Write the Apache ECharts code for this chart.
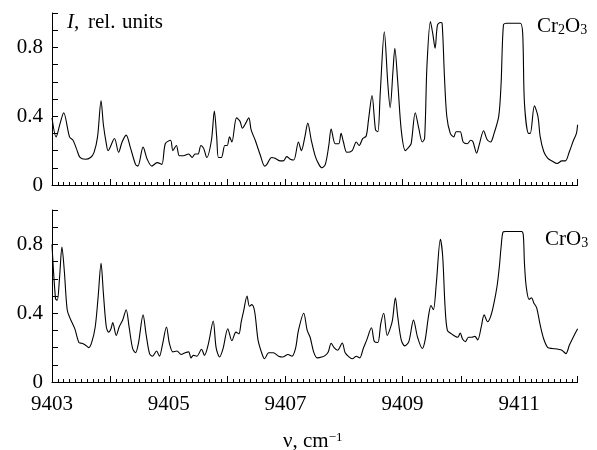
<!DOCTYPE html>
<html>
<head>
<meta charset="utf-8">
<script src="https://cdn.jsdelivr.net/npm/echarts@6/dist/echarts.min.js"></script>
<style>html,body{margin:0;padding:0;background:#fff}#c{width:597px;height:450px}</style>
</head>
<body>
<div id="c"></div>
<script>
// Wavenumber (cm^-1) and relative intensity, Cr2O3 panel
const nuTop = [9403.00,9403.07,9403.14,9403.20,9403.30,9403.36,9403.42,9403.48,9403.57,9403.66,9403.72,9403.78,9403.84,9403.88,9403.93,9403.96,9404.07,9404.14,9404.20,9404.27,9404.34,9404.43,9404.47,9404.56,9404.63,9404.71,9404.80,9404.88,9404.94,9405.03,9405.07,9405.13,9405.18,9405.25,9405.34,9405.40,9405.45,9405.50,9405.55,9405.60,9405.65,9405.73,9405.78,9405.82,9405.85,9405.90,9405.96,9406.00,9406.04,9406.08,9406.16,9406.22,9406.26,9406.31,9406.37,9406.41,9406.48,9406.57,9406.64,9406.68,9406.76,9406.82,9406.91,9406.96,9407.02,9407.08,9407.14,9407.22,9407.27,9407.33,9407.38,9407.44,9407.51,9407.57,9407.62,9407.68,9407.74,9407.78,9407.85,9407.91,9407.95,9407.99,9408.05,9408.14,9408.21,9408.26,9408.32,9408.38,9408.42,9408.48,9408.54,9408.58,9408.62,9408.69,9408.75,9408.79,9408.84,9408.87,9408.92,9408.98,9409.05,9409.11,9409.15,9409.22,9409.28,9409.34,9409.38,9409.42,9409.48,9409.52,9409.56,9409.60,9409.65,9409.68,9409.72,9409.76,9409.82,9409.88,9409.92,9409.99,9410.04,9410.11,9410.17,9410.21,9410.27,9410.32,9410.39,9410.45,9410.51,9410.57,9410.65,9410.69,9410.73,9410.78,9410.90,9411.02,9411.06,9411.09,9411.16,9411.19,9411.26,9411.32,9411.36,9411.42,9411.49,9411.56,9411.65,9411.73,9411.79,9411.86,9411.93,9411.98,9412.00];
const iTop = [0.39,0.28,0.36,0.42,0.28,0.26,0.21,0.16,0.15,0.16,0.19,0.28,0.49,0.35,0.24,0.20,0.27,0.19,0.25,0.29,0.22,0.12,0.11,0.22,0.15,0.11,0.13,0.12,0.24,0.26,0.20,0.23,0.17,0.17,0.18,0.16,0.18,0.18,0.23,0.21,0.16,0.26,0.43,0.28,0.16,0.16,0.23,0.23,0.28,0.25,0.39,0.37,0.33,0.355,0.39,0.32,0.26,0.17,0.11,0.12,0.16,0.155,0.14,0.14,0.165,0.15,0.145,0.25,0.20,0.28,0.36,0.26,0.165,0.12,0.10,0.12,0.23,0.325,0.24,0.24,0.30,0.25,0.19,0.20,0.25,0.23,0.27,0.285,0.38,0.52,0.32,0.31,0.53,0.89,0.59,0.45,0.67,0.795,0.60,0.32,0.20,0.22,0.24,0.42,0.33,0.25,0.27,0.69,0.95,0.88,0.795,0.93,0.945,0.94,0.63,0.40,0.30,0.28,0.31,0.31,0.25,0.24,0.26,0.25,0.185,0.24,0.315,0.265,0.25,0.30,0.40,0.59,0.93,0.94,0.94,0.94,0.88,0.475,0.30,0.30,0.46,0.40,0.28,0.195,0.155,0.14,0.125,0.14,0.14,0.195,0.26,0.30,0.35];
// CrO3 panel
const nuBot = [9403.00,9403.06,9403.09,9403.13,9403.17,9403.21,9403.26,9403.31,9403.39,9403.46,9403.51,9403.57,9403.63,9403.68,9403.74,9403.79,9403.84,9403.88,9403.93,9403.97,9404.01,9404.04,9404.10,9404.15,9404.21,9404.27,9404.32,9404.38,9404.43,9404.48,9404.56,9404.61,9404.67,9404.72,9404.79,9404.84,9404.89,9404.96,9405.01,9405.07,9405.14,9405.21,9405.28,9405.34,9405.38,9405.42,9405.48,9405.56,9405.61,9405.68,9405.76,9405.81,9405.87,9405.93,9406.01,9406.08,9406.15,9406.20,9406.24,9406.28,9406.34,9406.38,9406.42,9406.47,9406.53,9406.60,9406.64,9406.71,9406.79,9406.88,9406.95,9407.04,9407.11,9407.17,9407.22,9407.31,9407.37,9407.42,9407.48,9407.54,9407.62,9407.68,9407.73,9407.78,9407.83,9407.89,9407.97,9408.02,9408.09,9408.15,9408.21,9408.27,9408.33,9408.39,9408.47,9408.52,9408.58,9408.63,9408.68,9408.74,9408.79,9408.83,9408.88,9408.92,9408.98,9409.04,9409.11,9409.19,9409.26,9409.34,9409.39,9409.45,9409.49,9409.53,9409.58,9409.65,9409.69,9409.73,9409.77,9409.84,9409.91,9409.95,9409.99,9410.03,9410.08,9410.13,9410.19,9410.24,9410.29,9410.35,9410.40,9410.46,9410.51,9410.56,9410.62,9410.66,9410.69,9410.72,9410.76,9410.90,9411.04,9411.07,9411.09,9411.12,9411.17,9411.21,9411.25,9411.30,9411.36,9411.42,9411.49,9411.57,9411.67,9411.73,9411.80,9411.86,9411.91,9411.97,9412.00];
const iBot = [0.80,0.485,0.475,0.61,0.785,0.65,0.42,0.37,0.31,0.23,0.225,0.215,0.20,0.23,0.32,0.495,0.69,0.515,0.32,0.29,0.31,0.345,0.27,0.32,0.36,0.42,0.32,0.195,0.17,0.225,0.39,0.28,0.165,0.15,0.18,0.15,0.215,0.32,0.225,0.175,0.18,0.16,0.17,0.175,0.14,0.155,0.15,0.19,0.155,0.225,0.355,0.20,0.145,0.195,0.31,0.24,0.29,0.28,0.35,0.41,0.50,0.44,0.45,0.41,0.24,0.16,0.135,0.17,0.17,0.15,0.145,0.16,0.15,0.195,0.30,0.40,0.30,0.26,0.175,0.14,0.145,0.155,0.175,0.225,0.20,0.185,0.227,0.17,0.145,0.135,0.15,0.14,0.195,0.245,0.315,0.235,0.23,0.34,0.40,0.27,0.31,0.36,0.49,0.38,0.245,0.21,0.235,0.36,0.26,0.195,0.245,0.39,0.445,0.42,0.57,0.83,0.73,0.44,0.30,0.28,0.265,0.26,0.285,0.25,0.235,0.26,0.26,0.265,0.245,0.32,0.39,0.35,0.38,0.445,0.555,0.67,0.785,0.87,0.875,0.875,0.875,0.855,0.69,0.555,0.48,0.49,0.46,0.43,0.33,0.25,0.20,0.195,0.19,0.185,0.165,0.215,0.25,0.29,0.31];
const xTickLabels = [9403, 9405, 9407, 9409, 9411];
const yTickLabels = [0, 0.4, 0.8];

const FONT = '"Liberation Serif", "Times New Roman", serif';
const zip = (a, b) => a.map((v, i) => [v, b[i]]);

function xAxis(gi, showLabels) {
  return {
    type: 'value', gridIndex: gi, min: 9403, max: 9412, interval: 1,
    axisLine: { show: true, onZero: false, lineStyle: { color: '#000', width: 1 } },
    axisTick: { show: true, inside: true, length: 6, lineStyle: { color: '#000', width: 1 } },
    minorTick: { show: true, splitNumber: 10, length: 3, lineStyle: { color: '#000', width: 1 } },
    splitLine: { show: false },
    axisLabel: {
      show: showLabels, margin: 12, color: '#000', fontFamily: FONT, fontSize: 21,
      formatter: v => xTickLabels.includes(Math.round(v)) ? String(Math.round(v)) : ''
    }
  };
}
function yAxis(gi) {
  return {
    type: 'value', gridIndex: gi, min: 0, max: 1, interval: 0.1,
    axisLine: { show: true, lineStyle: { color: '#000', width: 1 } },
    axisTick: { show: true, inside: true, length: 6, lineStyle: { color: '#000', width: 1 } },
    splitLine: { show: false },
    axisLabel: {
      margin: 9, color: '#000', fontFamily: FONT, fontSize: 21,
      formatter: v => {
        const r = Math.round(v * 10) / 10;
        return yTickLabels.some(t => Math.abs(t - r) < 1e-6) ? (r === 0 ? '0' : r.toFixed(1)) : '';
      }
    }
  };
}
function line(gi, nu, iv) {
  return {
    type: 'line', xAxisIndex: gi, yAxisIndex: gi, data: zip(nu, iv),
    showSymbol: false, symbol: 'none', smooth: 0.3,
    lineStyle: { color: '#000', width: 1.1 }, animation: false
  };
}

const chart = echarts.init(document.getElementById('c'), null, { renderer: 'canvas' });
chart.setOption({
  animation: false,
  backgroundColor: '#fff',
  grid: [
    { left: 52, top: 13, width: 525.6, height: 172 },
    { left: 52, top: 210, width: 525.6, height: 172 }
  ],
  xAxis: [xAxis(0, false), xAxis(1, true)],
  yAxis: [yAxis(0), yAxis(1)],
  series: [line(0, nuTop, iTop), line(1, nuBot, iBot)],
  graphic: [
    { type: 'text', left: 67, top: 12, style: { text: '{i|I}{n|,}', rich: {
      i: { fontFamily: FONT, fontSize: 21, fontStyle: 'italic', fill: '#000', color: '#000' },
      n: { fontFamily: FONT, fontSize: 21, fill: '#000', color: '#000' } } } },
    { type: 'text', left: 88, top: 12, style: { text: 'rel.', font: '21px ' + FONT, fill: '#000' } },
    { type: 'text', left: 122, top: 12, style: { text: 'units', font: '21px ' + FONT, fill: '#000' } },
    { type: 'text', left: 537, top: 16, style: { text: '{a|Cr}{s|2}{a|O}{s|3}', rich: {
      a: { fontFamily: FONT, fontSize: 21, color: '#000', fill: '#000' },
      s: { fontFamily: FONT, fontSize: 14, color: '#000', fill: '#000', verticalAlign: 'bottom' } } } },
    { type: 'text', left: 545, top: 229, style: { text: '{a|CrO}{s|3}', rich: {
      a: { fontFamily: FONT, fontSize: 21, color: '#000', fill: '#000' },
      s: { fontFamily: FONT, fontSize: 14, color: '#000', fill: '#000', verticalAlign: 'bottom' } } } },
    { type: 'text', left: 283, top: 431, style: { text: '{a|ν, cm}{p|−1}', rich: {
      a: { fontFamily: FONT, fontSize: 21, color: '#000', fill: '#000', verticalAlign: 'bottom' },
      p: { fontFamily: FONT, fontSize: 13, color: '#000', fill: '#000', verticalAlign: 'top' } } } }
  ]
});
</script>
</body>
</html>
